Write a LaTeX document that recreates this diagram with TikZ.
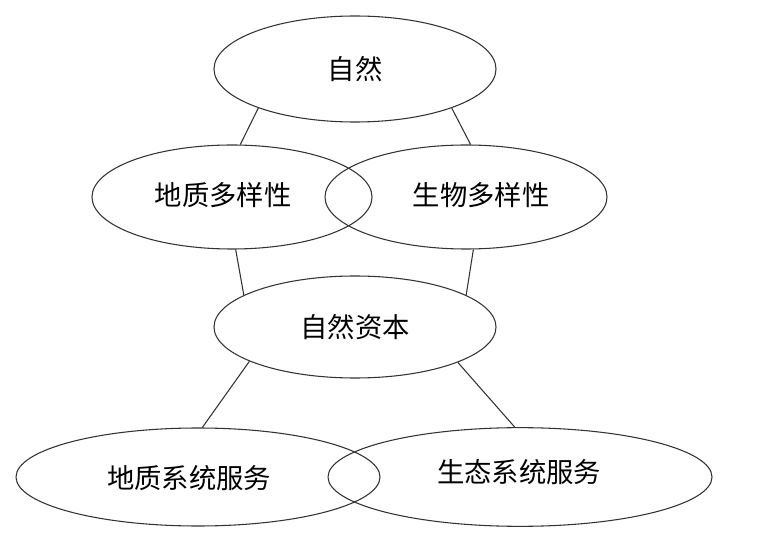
\documentclass[tikz,border=0pt]{standalone}
\usepackage{fontspec}
\newfontfamily\cjk{Noto Sans CJK SC}
\usetikzlibrary{shapes.geometric}
\begin{document}
\begin{tikzpicture}[x=0.75pt,y=-0.75pt,
  ell/.style={ellipse,draw=black!80,line width=0.8pt,inner sep=0pt,font=\cjk\fontsize{20.5}{23}\selectfont},
  conn/.style={draw=black!80,line width=0.8pt}]
\useasboundingbox (0,0) rectangle (760,541);
\node[ell,minimum width=211.5pt,minimum height=79.5pt] (zr) at (355,69) {自然};
\node[ell,minimum width=210pt,minimum height=78pt] (dz) at (232,197) {};
\node at (223,195) {\cjk\fontsize{20.5}{23}\selectfont 地质多样性};
\node[ell,minimum width=211.5pt,minimum height=78pt] (sw) at (466,197) {};
\node at (481,195) {\cjk\fontsize{20.5}{23}\selectfont 生物多样性};
\node[ell,minimum width=211.5pt,minimum height=76.5pt] (zb) at (355,327) {自然资本};
\node[ell,minimum width=273pt,minimum height=73.5pt] (dx) at (198,477) {};
\node at (189,478) {\cjk\fontsize{20.5}{23}\selectfont 地质系统服务};
\node[ell,minimum width=288pt,minimum height=74pt] (st) at (520,477) {};
\node at (519,472) {\cjk\fontsize{20.5}{23}\selectfont 生态系统服务};
\draw[conn] (zr.-158) -- (dz.81);
\draw[conn] (zr.-22) -- (sw.85);
\draw[conn] (dz.-86) -- (zb.164);
\draw[conn] (sw.-82) -- (zb.16);
\draw[conn] (zb.-162) -- (dx.85);
\draw[conn] (zb.-19) -- (st.96);
\end{tikzpicture}
\end{document}
